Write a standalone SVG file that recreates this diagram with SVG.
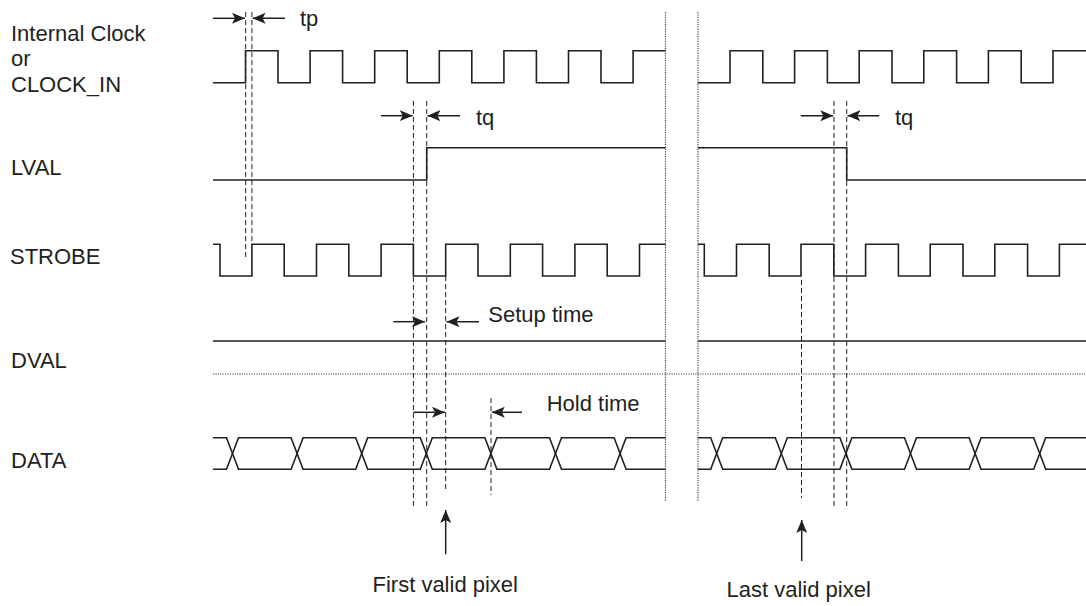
<svg xmlns="http://www.w3.org/2000/svg" width="1086" height="606" viewBox="0 0 1086 606">
<style>
text{font-family:"Liberation Sans",Arial,sans-serif;font-size:22px;fill:#231f20}
.sig{fill:none;stroke:#231f20;stroke-width:1.6;stroke-linejoin:miter}
.dash{fill:none;stroke:#231f20;stroke-width:1;stroke-dasharray:5,3}
.dot{fill:none;stroke:#444;stroke-width:1.2;stroke-dasharray:1.2,1.2}
.arr{fill:none;stroke:#231f20;stroke-width:1.5;marker-end:url(#ah)}
</style>
<defs>
<marker id="ah" markerUnits="userSpaceOnUse" markerWidth="14" markerHeight="12" refX="13" refY="5.5" orient="auto">
<path d="M0,0 L13,5.5 L0,11 L3,5.5 z" fill="#231f20"/>
</marker>
</defs>
<rect width="1086" height="606" fill="#fff"/>
<g id="labels">
<text x="11" y="40.5">Internal Clock</text>
<text x="11" y="65.5">or</text>
<text x="11" y="91.5">CLOCK_IN</text>
<text x="11" y="174.5">LVAL</text>
<text x="10" y="264.3">STROBE</text>
<text x="11" y="368.3">DVAL</text>
<text x="11" y="467.5">DATA</text>
</g>
<g id="breaks">
<line class="dot" x1="665.5" y1="12" x2="665.5" y2="501"/>
<line class="dot" x1="698" y1="12" x2="698" y2="501"/>
<line class="dot" x1="213" y1="374" x2="1086" y2="374"/>
</g>
<g id="clock">
<path class="sig" d="M213,82.7 H245.5 V50.7 H278 V82.7 H310.1 V50.7 H342.6 V82.7 H374.7 V50.7 H407.2 V82.7 H439.3 V50.7 H471.8 V82.7 H503.9 V50.7 H536.4 V82.7 H568.5 V50.7 H601 V82.7 H633.1 V50.7 H665.5"/>
<path class="sig" d="M698,82.7 H730 V50.7 H762.8 V82.7 H794.6 V50.7 H827.4 V82.7 H859.2 V50.7 H892 V82.7 H923.8 V50.7 H956.6 V82.7 H988.4 V50.7 H1021.2 V82.7 H1053 V50.7 H1086"/>
</g>
<g id="lval">
<path class="sig" d="M213,180 H426.7 V147.7 H665.5"/>
<path class="sig" d="M698,147.7 H846.7 V180 H1086"/>
</g>
<g id="strobe">
<path class="sig" d="M213,244.3 H220 V276 H251.9 V244.3 H284.2 V276 H316.5 V244.3 H348.8 V276 H381.1 V244.3 H413.4 V276 H445.7 V244.3 H478 V276 H510.3 V244.3 H542.6 V276 H574.9 V244.3 H607.2 V276 H639.5 V244.3 H665.5"/>
<path class="sig" d="M698,244.3 H704.3 V276 H736.5 V244.3 H769.2 V276 H801 V244.3 H833.8 V276 H865.6 V244.3 H898.4 V276 H930.2 V244.3 H963 V276 H994.8 V244.3 H1027.6 V276 H1059.4 V244.3 H1086"/>
</g>
<g id="dval">
<path class="sig" d="M213,341 H665.5"/>
<path class="sig" d="M698,341 H1086"/>
</g>
<g id="data">
<path class="sig" d="M213,437.7 H226.5 L238.5,469.3 H291.1 L303.1,437.7 H355.7 L367.7,469.3 H420.3 L432.3,437.7 H484.9 L496.9,469.3 H549.5 L561.5,437.7 H614.1 L626.1,469.3 H665.5"/>
<path class="sig" d="M213,469.3 H226.5 L238.5,437.7 H291.1 L303.1,469.3 H355.7 L367.7,437.7 H420.3 L432.3,469.3 H484.9 L496.9,437.7 H549.5 L561.5,469.3 H614.1 L626.1,437.7 H665.5"/>
<path class="sig" d="M698,437.7 H710.7 L722.7,469.3 H775.3 L787.3,437.7 H839.9 L851.9,469.3 H904.5 L916.5,437.7 H969.1 L981.1,469.3 H1033.7 L1045.7,437.7 H1086"/>
<path class="sig" d="M698,469.3 H710.7 L722.7,437.7 H775.3 L787.3,469.3 H839.9 L851.9,437.7 H904.5 L916.5,469.3 H969.1 L981.1,437.7 H1033.7 L1045.7,469.3 H1086"/>
</g>
<g id="guides">
<line class="dash" x1="245.7" y1="12" x2="245.7" y2="260"/>
<line class="dash" x1="251.9" y1="12" x2="251.9" y2="244"/>
<line class="dash" x1="413.4" y1="101" x2="413.4" y2="508"/>
<line class="dash" x1="426.7" y1="101" x2="426.7" y2="508"/>
<line class="dash" x1="445.7" y1="276" x2="445.7" y2="492"/>
<line class="dash" x1="491" y1="398" x2="491" y2="495"/>
<line class="dash" x1="801.5" y1="280" x2="801.5" y2="498"/>
<line class="dash" x1="834" y1="101" x2="834" y2="508"/>
<line class="dash" x1="846.7" y1="101" x2="846.7" y2="508"/>
</g>
<g id="connectors">
<line class="arr" x1="213" y1="18.3" x2="245" y2="18.3"/>
<line class="arr" x1="285" y1="18.3" x2="252.6" y2="18.3"/>
<line class="arr" x1="381" y1="115.7" x2="412.7" y2="115.7"/>
<line class="arr" x1="460" y1="115.7" x2="427.4" y2="115.7"/>
<line class="arr" x1="800.7" y1="115.7" x2="833.3" y2="115.7"/>
<line class="arr" x1="879.3" y1="115.7" x2="847.4" y2="115.7"/>
<line class="arr" x1="393.3" y1="321.7" x2="425" y2="321.7"/>
<line class="arr" x1="479" y1="321.7" x2="446.5" y2="321.7"/>
<line class="arr" x1="413.4" y1="412.3" x2="445" y2="412.3"/>
<line class="arr" x1="522" y1="412.3" x2="491.8" y2="412.3"/>
<line class="arr" x1="445.7" y1="554.3" x2="445.7" y2="510"/>
<line class="arr" x1="801.7" y1="561" x2="801.7" y2="520"/>
</g>
<g id="annotations">
<text x="300" y="26">tp</text>
<text x="476" y="125">tq</text>
<text x="895" y="125">tq</text>
<text x="488.3" y="321.5">Setup time</text>
<text x="546.7" y="411">Hold time</text>
<text x="372.5" y="592">First valid pixel</text>
<text x="726.5" y="597">Last valid pixel</text>
</g>
</svg>
